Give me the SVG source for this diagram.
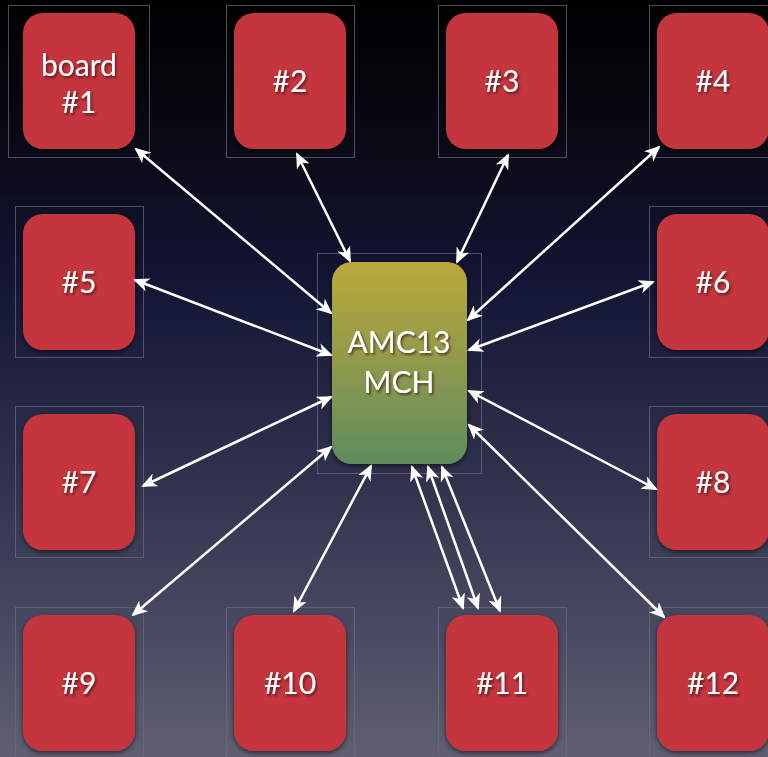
<svg xmlns="http://www.w3.org/2000/svg" width="768" height="757" viewBox="0 0 768 757">
<defs>
  <linearGradient id="bg" x1="0" y1="0" x2="0" y2="1">
    <stop offset="0" stop-color="#000000"/>
    <stop offset="0.18" stop-color="#080a14"/>
    <stop offset="0.38" stop-color="#141636"/>
    <stop offset="0.62" stop-color="#2f314c"/>
    <stop offset="1" stop-color="#5e5f73"/>
  </linearGradient>
  <linearGradient id="amc" x1="0" y1="0" x2="0" y2="1">
    <stop offset="0" stop-color="#bba83a"/>
    <stop offset="0.5" stop-color="#8f9a4c"/>
    <stop offset="1" stop-color="#5f8b5e"/>
  </linearGradient>
  <filter id="sh" x="-20%" y="-20%" width="140%" height="140%">
    <feDropShadow dx="0" dy="2" stdDeviation="2.5" flood-color="#000" flood-opacity="0.55"/>
  </filter>
  <filter id="tsh" x="-20%" y="-30%" width="140%" height="160%">
    <feDropShadow dx="1.5" dy="2" stdDeviation="1" flood-color="#3a0a0a" flood-opacity="0.7"/>
  </filter>
  <marker id="ah" viewBox="0 0 16 14" refX="14" refY="7" markerWidth="16" markerHeight="14" markerUnits="userSpaceOnUse" orient="auto-start-reverse">
    <path d="M0,0 L16,7 L0,14 L4.5,7 z" fill="#ffffff"/>
  </marker>
  <style>
    .frame{fill:none;stroke:#6a6c80;stroke-width:1;stroke-opacity:0.7}
    .board{fill:#c4363c;filter:url(#sh)}
    .lbl{font-family:Lato,"Open Sans","DejaVu Sans",sans-serif;font-size:30px;fill:#ffffff;text-anchor:middle;filter:url(#tsh)}
    .conn line{stroke:#ffffff;stroke-width:2.5;marker-start:url(#ah);marker-end:url(#ah)}
  </style>
</defs>
<rect x="0" y="0" width="768" height="757" fill="url(#bg)"/>

<g id="board1"><rect class="frame" x="8.5" y="5.5" width="141" height="152"/><rect class="board" x="23" y="13" width="112" height="136" rx="20"/><text class="lbl" x="79" y="76">board</text><text class="lbl" x="79" y="113">#1</text></g>
<g id="board2"><rect class="frame" x="226.5" y="5.5" width="128" height="152"/><rect class="board" x="234" y="13" width="112" height="136" rx="20"/><text class="lbl" x="290" y="92">#2</text></g>
<g id="board3"><rect class="frame" x="438.5" y="5.5" width="128" height="152"/><rect class="board" x="446" y="13" width="112" height="136" rx="20"/><text class="lbl" x="502" y="92">#3</text></g>
<g id="board4"><rect class="frame" x="649.5" y="5.5" width="128" height="152"/><rect class="board" x="657" y="13" width="112" height="136" rx="20"/><text class="lbl" x="713" y="92">#4</text></g>

<g id="board5"><rect class="frame" x="15.5" y="206.5" width="128" height="151"/><rect class="board" x="23" y="214" width="112" height="136" rx="20"/><text class="lbl" x="79" y="293">#5</text></g>
<g id="board6"><rect class="frame" x="649.5" y="206.5" width="128" height="151"/><rect class="board" x="657" y="214" width="112" height="136" rx="20"/><text class="lbl" x="713" y="293">#6</text></g>
<g id="board7"><rect class="frame" x="15.5" y="406.5" width="128" height="151"/><rect class="board" x="23" y="414" width="112" height="136" rx="20"/><text class="lbl" x="79" y="493">#7</text></g>
<g id="board8"><rect class="frame" x="649.5" y="406.5" width="128" height="151"/><rect class="board" x="657" y="414" width="112" height="136" rx="20"/><text class="lbl" x="713" y="493">#8</text></g>

<g id="board9"><rect class="frame" x="15.5" y="607.5" width="128" height="152"/><rect class="board" x="23" y="615" width="112" height="136" rx="20"/><text class="lbl" x="79" y="694">#9</text></g>
<g id="board10"><rect class="frame" x="226.5" y="607.5" width="128" height="152"/><rect class="board" x="234" y="615" width="112" height="136" rx="20"/><text class="lbl" x="290" y="694">#10</text></g>
<g id="board11"><rect class="frame" x="438.5" y="607.5" width="128" height="152"/><rect class="board" x="446" y="615" width="112" height="136" rx="20"/><text class="lbl" x="502" y="694">#11</text></g>
<g id="board12"><rect class="frame" x="649.5" y="607.5" width="128" height="152"/><rect class="board" x="657" y="615" width="112" height="136" rx="20"/><text class="lbl" x="713" y="694">#12</text></g>

<g id="amc13"><rect class="frame" x="317.5" y="253.5" width="164" height="220"/><rect x="332" y="262" width="135" height="202" rx="20" fill="url(#amc)" filter="url(#sh)"/><text class="lbl" x="399" y="353">AMC13</text><text class="lbl" x="399" y="393">MCH</text></g>

<g id="connectors" class="conn">
  <line x1="136" y1="149" x2="331" y2="313"/>
  <line x1="297" y1="154" x2="350" y2="261"/>
  <line x1="508" y1="155" x2="457" y2="262"/>
  <line x1="659" y1="147" x2="468" y2="320"/>
  <line x1="135" y1="280" x2="331" y2="355"/>
  <line x1="653" y1="282" x2="469" y2="350"/>
  <line x1="143" y1="486" x2="331" y2="397"/>
  <line x1="656" y1="489" x2="469" y2="391"/>
  <line x1="133" y1="615" x2="331" y2="447"/>
  <line x1="294" y1="611" x2="371" y2="466"/>
  <line x1="412" y1="467" x2="463" y2="608"/>
  <line x1="428" y1="467" x2="478" y2="608"/>
  <line x1="442" y1="467" x2="500" y2="611"/>
  <line x1="664" y1="617" x2="469" y2="425"/>
</g>
</svg>
